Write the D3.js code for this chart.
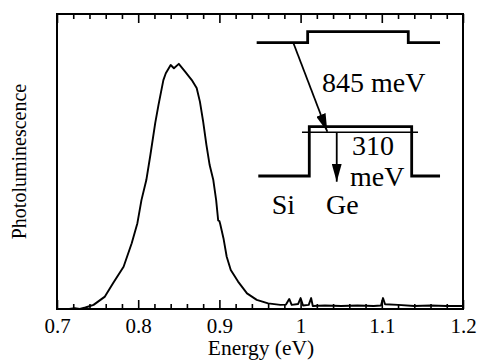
<!DOCTYPE html>
<html>
<head>
<meta charset="utf-8">
<script src="https://cdn.jsdelivr.net/npm/d3@7"></script>
<style>
  html, body { margin: 0; padding: 0; background: #fff; }
  svg { display: block; }
  svg text { font-family: "Liberation Serif", "DejaVu Serif", serif !important; }
</style>
</head>
<body>
<div id="chart"></div>
<script>
// PL spectrum (intensity in arbitrary units)
const energy = [
  0.715, 0.722, 0.728, 0.735, 0.745, 0.759, 0.769, 0.782, 0.792, 0.799,
  0.804, 0.810, 0.815, 0.821, 0.825, 0.831, 0.834, 0.840, 0.844, 0.850,
  0.858, 0.866, 0.872, 0.876, 0.880, 0.884, 0.888, 0.8925, 0.896, 0.8985,
  0.900, 0.901, 0.905, 0.909, 0.914, 0.923, 0.934, 0.946, 0.960, 0.975,
  0.982, 0.986, 0.989, 0.997, 1.000, 1.003, 1.010, 1.013, 1.015, 1.030,
  1.050, 1.070, 1.090, 1.099, 1.1015, 1.104, 1.120, 1.140, 1.160, 1.180,
  1.200
];
const intensity = [
  0.000, 0.003, 0.000, 0.005, 0.014, 0.042, 0.087, 0.143, 0.223, 0.291,
  0.369, 0.437, 0.522, 0.631, 0.692, 0.776, 0.799, 0.827, 0.816, 0.831,
  0.804, 0.776, 0.749, 0.703, 0.635, 0.556, 0.488, 0.437, 0.369, 0.300,
  0.298, 0.288, 0.240, 0.177, 0.132, 0.093, 0.053, 0.031, 0.019, 0.014,
  0.015, 0.034, 0.014, 0.017, 0.037, 0.012, 0.014, 0.037, 0.010, 0.012,
  0.010, 0.012, 0.010, 0.012, 0.037, 0.016, 0.014, 0.010, 0.012, 0.010,
  0.010
];

const majorTicks = [0.7, 0.8, 0.9, 1.0, 1.1, 1.2];
const tickLabels = ['0.7', '0.8', '0.9', '1', '1.1', '1.2'];
const minorTicks = [0.72, 0.74, 0.76, 0.78, 0.82, 0.84, 0.86, 0.88, 0.92, 0.94,
  0.96, 0.98, 1.02, 1.04, 1.06, 1.08, 1.12, 1.14, 1.16, 1.18];

// inset band diagram (schematic, placed in data coordinates)
const conductionBand = [[0.9459, 0.9027], [1.0087, 0.9027], [1.0087, 0.9400],
  [1.1326, 0.9400], [1.1326, 0.9027], [1.1717, 0.9027]];
const valenceBand = [[0.9479, 0.4508], [1.0107, 0.4508], [1.0107, 0.6180],
  [1.1368, 0.6180], [1.1368, 0.4508], [1.1717, 0.4508]];
const holeLevel = [[1.0017, 0.5990], [1.1446, 0.5990]];
const arrows = [
  { from: [0.9910, 0.9027], to: [1.0329, 0.6010] },
  { from: [1.0445, 0.5990], to: [1.0445, 0.4315] }
];
const insetLabels = [
  { text: '845\u00a0meV', x: 1.0264, y: 0.7366 },
  { text: '310', x: 1.0633, y: 0.522 },
  { text: 'meV', x: 1.0608, y: 0.417 },
  { text: 'Si', x: 0.9644, y: 0.322 },
  { text: 'Ge', x: 1.0313, y: 0.322 }
];

const serif = '"Liberation Serif", "DejaVu Serif", serif';
const width = 479, height = 360;
const margin = { top: 14, right: 16, bottom: 51, left: 57 };

const svg = d3.select('#chart').append('svg')
  .attr('width', width)
  .attr('height', height)
  .attr('font-family', serif);

const x = d3.scaleLinear().domain([0.7, 1.2]).range([margin.left, width - margin.right]);
const y = d3.scaleLinear().domain([0, 1]).range([height - margin.bottom, margin.top]);

const plotBottom = height - margin.bottom;

// axes: inward ticks on bottom and top
const bottomMajor = d3.axisBottom(x).tickValues(majorTicks)
  .tickSize(-9).tickPadding(9.5)
  .tickFormat((d, i) => tickLabels[i]);
const bottomMinor = d3.axisBottom(x).tickValues(minorTicks).tickSize(-5).tickFormat('');
const topMajor = d3.axisTop(x).tickValues(majorTicks).tickSize(-9).tickFormat('');
const topMinor = d3.axisTop(x).tickValues(minorTicks).tickSize(-5).tickFormat('');

const gb = svg.append('g').attr('transform', `translate(0,${plotBottom})`);
gb.append('g').call(bottomMajor);
gb.append('g').call(bottomMinor);
const gt = svg.append('g').attr('transform', `translate(0,${margin.top})`);
gt.append('g').call(topMajor);
gt.append('g').call(topMinor);

svg.selectAll('.domain').remove();
svg.selectAll('g').attr('font-family', serif);
svg.selectAll('.tick line').attr('stroke', '#000').attr('stroke-width', 1.6);
svg.selectAll('.tick text')
  .attr('fill', '#000')
  .attr('font-family', serif)
  .attr('font-size', 21);

// frame
svg.append('rect')
  .attr('x', x(0.7)).attr('y', y(1))
  .attr('width', x(1.2) - x(0.7))
  .attr('height', y(0) - y(1))
  .attr('fill', 'none')
  .attr('stroke', '#000')
  .attr('stroke-width', 2);

// spectrum
const pts = energy.map((e, i) => [e, intensity[i]]);
const line = d3.line().x(d => x(d[0])).y(d => y(d[1]));
svg.append('path')
  .datum(pts)
  .attr('d', line)
  .attr('fill', 'none')
  .attr('stroke', '#000')
  .attr('stroke-width', 1.9)
  .attr('stroke-linejoin', 'round');

// axis titles
svg.append('text')
  .attr('x', (x(0.7) + x(1.2)) / 2 + 1)
  .attr('y', 355)
  .attr('text-anchor', 'middle')
  .attr('font-family', serif)
  .attr('font-size', 21.5)
  .text('Energy (eV)');

svg.append('text')
  .attr('transform', `translate(26,${(y(0) + y(1)) / 2}) rotate(-90)`)
  .attr('text-anchor', 'middle')
  .attr('font-family', serif)
  .attr('font-size', 20)
  .text('Photoluminescence');

// inset
const inset = svg.append('g');
const bandLine = d3.line().x(d => x(d[0])).y(d => y(d[1]));

svg.append('defs').append('marker')
  .attr('id', 'head')
  .attr('viewBox', '0 0 18 10')
  .attr('refX', 18).attr('refY', 5)
  .attr('markerWidth', 18).attr('markerHeight', 10)
  .attr('markerUnits', 'userSpaceOnUse')
  .attr('orient', 'auto')
  .append('path')
  .attr('d', 'M0,0 L18,5 L0,10 Z')
  .attr('fill', '#000');

inset.append('path').datum(conductionBand)
  .attr('d', bandLine).attr('fill', 'none')
  .attr('stroke', '#000').attr('stroke-width', 2.8);
inset.append('path').datum(valenceBand)
  .attr('d', bandLine).attr('fill', 'none')
  .attr('stroke', '#000').attr('stroke-width', 2.8);
inset.append('path').datum(holeLevel)
  .attr('d', bandLine).attr('fill', 'none')
  .attr('stroke', '#000').attr('stroke-width', 1.5);

inset.selectAll('line.arrow')
  .data(arrows)
  .enter().append('line')
  .attr('class', 'arrow')
  .attr('x1', d => x(d.from[0])).attr('y1', d => y(d.from[1]))
  .attr('x2', d => x(d.to[0])).attr('y2', d => y(d.to[1]))
  .attr('stroke', '#000').attr('stroke-width', 1.8)
  .attr('marker-end', 'url(#head)');

inset.selectAll('text')
  .data(insetLabels)
  .enter().append('text')
  .attr('x', d => x(d.x))
  .attr('y', d => y(d.y))
  .attr('font-family', serif)
  .attr('font-size', 28)
  .text(d => d.text);
</script>
</body>
</html>
